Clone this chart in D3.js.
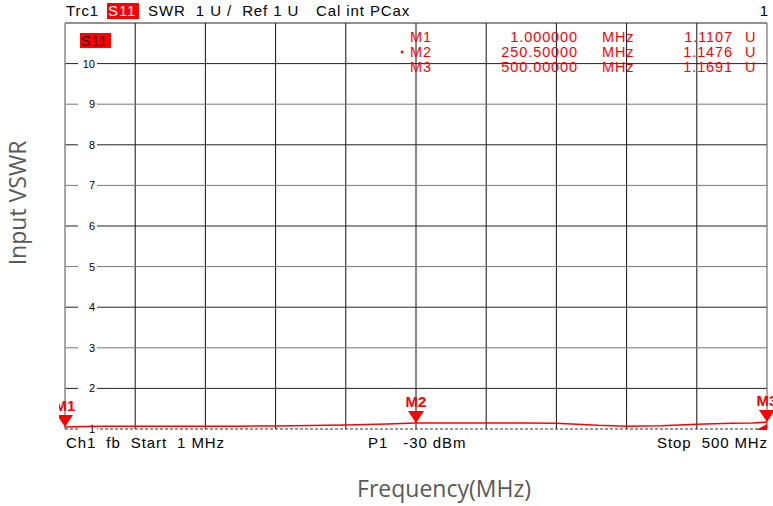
<!DOCTYPE html>
<html><head><meta charset="utf-8">
<script src="https://cdn.jsdelivr.net/npm/d3@7"></script>
<style>body{margin:0;background:#fff}svg{display:block}text{white-space:pre}</style>
</head><body>
<svg id="c" width="773" height="506"></svg>
<script>
const freqs = [1, 8, 15, 30, 50, 75, 100, 125, 150, 175, 200, 215, 230, 250.5, 275, 300, 325, 350, 365, 380, 400, 425, 450, 475, 490, 500];
const swr   = [1.05, 1.055, 1.06, 1.065, 1.065, 1.07, 1.07, 1.07, 1.075, 1.085, 1.1, 1.11, 1.125, 1.145, 1.15, 1.15, 1.148, 1.14, 1.12, 1.09, 1.07, 1.08, 1.12, 1.14, 1.15, 1.17];
const yTicks = [1,2,3,4,5,6,7,8,9,10];
const markerNames = ["M1","M2","M3"];
const markerFreqs = [1.0, 250.5, 500.0];
const markerFreqText = ["1.000000","250.50000","500.00000"];
const markerValText = ["1.1107","1.1476","1.1691"];

const svg = d3.select("#c");
const L=65,R=767,T=23,B=429;
const x = d3.scaleLinear().domain([1,500]).range([L,R]);
const y = d3.scaleLinear().domain([1,11]).range([B,T]);
const font = "Liberation Sans, Arial, sans-serif";
const LS = 0.9;

// header
const hdr = svg.append("g").attr("font-family",font).attr("font-size",15).attr("letter-spacing",LS).attr("fill","#000");
hdr.append("text").attr("x",66).attr("y",16).text("Trc1");
hdr.append("rect").attr("x",107).attr("y",3).attr("width",32).attr("height",16).attr("fill","#ff0000");
hdr.append("text").attr("x",108).attr("y",16).attr("fill","#fff").text("S11");
hdr.append("text").attr("x",148).attr("y",16).text("SWR  1 U /  Ref 1 U");
hdr.append("text").attr("x",316).attr("y",16).text("Cal int PCax");
hdr.append("text").attr("x",769).attr("y",16).attr("text-anchor","end").text("1");

// grid verticals
const vt = d3.range(0,11).map(i=>1+i*49.9);
svg.append("g").selectAll("line").data(vt.slice(1,10)).join("line")
  .attr("x1",d=>x(d)).attr("x2",d=>x(d)).attr("y1",T).attr("y2",B)
  .attr("stroke","#111").attr("stroke-width",1);
// horizontal gridlines
const hg = svg.append("g");
yTicks.slice(1).forEach(v=>{
  hg.append("line").attr("x1",L).attr("x2",R).attr("y1",y(v)).attr("y2",y(v)).attr("stroke", v%2? "#777":"#222").attr("stroke-width",1);
});
svg.append("line").attr("x1",L).attr("x2",R).attr("y1",T).attr("y2",T).attr("stroke","#222");
svg.append("line").attr("x1",L).attr("x2",L).attr("y1",T).attr("y2",B).attr("stroke","#888").attr("stroke-width",1.5);
svg.append("line").attr("x1",R).attr("x2",R).attr("y1",T).attr("y2",B).attr("stroke","#555");
svg.append("line").attr("x1",L).attr("x2",R).attr("y1",y(1)).attr("y2",y(1)).attr("stroke","#333").attr("stroke-dasharray","3,2").attr("stroke-width",1.2);

// tick labels with white background
const tl = svg.append("g").attr("font-family",font).attr("font-size",11);
yTicks.forEach(v=>{
  tl.append("rect").attr("x",78).attr("y",y(v)-5).attr("width",19).attr("height",10).attr("fill","#fff");
  tl.append("text").attr("x",95).attr("y",y(v)+4).attr("text-anchor","end").text(v);
});

// S11 label in plot
svg.append("rect").attr("x",80).attr("y",33).attr("width",31).attr("height",15).attr("fill","#ff0000");
svg.append("text").attr("x",81).attr("y",46).attr("font-family",font).attr("font-size",14.5).attr("letter-spacing",0.5).attr("fill","#000").text("S11");

// marker readouts
const mr = svg.append("g").attr("font-family",font).attr("font-size",14.5).attr("letter-spacing",LS).attr("fill","#ff0000");
markerNames.forEach((n,i)=>{
  const by = 42 + i*15;
  mr.append("text").attr("x",410).attr("y",by).text(n);
  mr.append("text").attr("x",578).attr("y",by).attr("text-anchor","end").text(markerFreqText[i]);
  mr.append("text").attr("x",602).attr("y",by).text("MHz");
  mr.append("text").attr("x",733).attr("y",by).attr("text-anchor","end").text(markerValText[i]);
  mr.append("text").attr("x",745).attr("y",by).text("U");
});
mr.append("circle").attr("cx",402).attr("cy",52).attr("r",1.4).attr("fill","#ff0000");

// trace
const line = d3.line().x((d,i)=>x(freqs[i])).y(d=>y(d));
svg.append("path").datum(swr).attr("d",line).attr("fill","none").attr("stroke","#ff0000").attr("stroke-width",1.5);

// markers
const interp = f=>{ for(let i=1;i<freqs.length;i++){ if(f<=freqs[i]){ const t=(f-freqs[i-1])/(freqs[i]-freqs[i-1]); return swr[i-1]+t*(swr[i]-swr[i-1]); } } return swr[swr.length-1]; };
svg.append("defs").append("clipPath").attr("id","mc").append("rect").attr("x",59).attr("y",0).attr("width",714).attr("height",506);
const mk = svg.append("g").attr("clip-path","url(#mc)");
markerNames.forEach((n,i)=>{
  const px = x(markerFreqs[i]), py = y(interp(markerFreqs[i]));
  mk.append("path").attr("d",`M${px-8},${py-12}L${px+8},${py-12}L${px},${py}Z`).attr("fill","#ff0000");
  mk.append("text").attr("x",px).attr("y",py-16).attr("text-anchor","middle").attr("font-family",font).attr("font-size",15).attr("font-weight","bold").attr("fill","#ff0000").text(n);
});
// reference wedge
svg.append("path").attr("d",`M${R},${y(1)-5}L${R},${y(1)+1}L${R-11},${y(1)+1}Z`).attr("fill","#ff0000");

// bottom texts
const bt = svg.append("g").attr("font-family",font).attr("font-size",15).attr("letter-spacing",LS).attr("fill","#000");
bt.append("text").attr("x",66).attr("y",448).text("Ch1  fb  Start  1 MHz");
bt.append("text").attr("x",368).attr("y",448).text("P1   -30 dBm");
bt.append("text").attr("x",768).attr("y",448).attr("text-anchor","end").text("Stop  500 MHz");

// axis titles
svg.append("text").attr("transform","translate(26,203) rotate(-90)").attr("text-anchor","middle")
  .attr("font-family","Open Sans, sans-serif").attr("font-size",23).attr("fill","#595959").text("Input VSWR");
svg.append("text").attr("x",444).attr("y",497).attr("text-anchor","middle")
  .attr("font-family","Open Sans, sans-serif").attr("font-size",23).attr("fill","#595959").text("Frequency(MHz)");
</script>
</body></html>
